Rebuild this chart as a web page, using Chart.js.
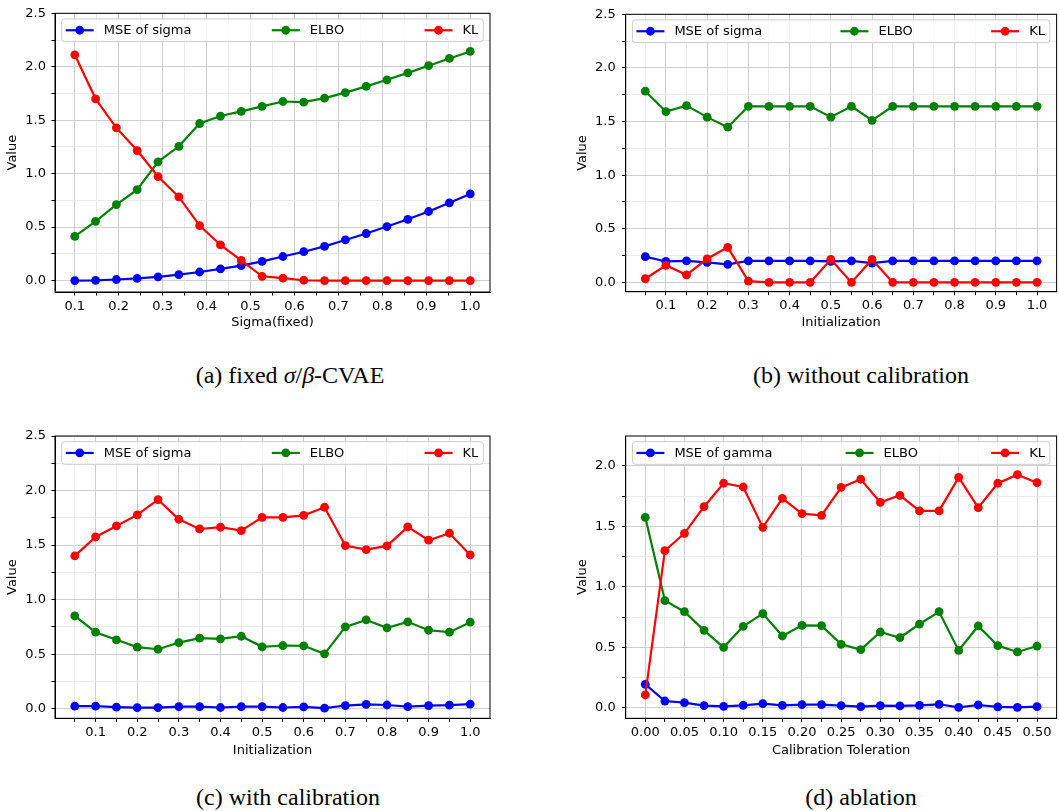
<!DOCTYPE html>
<html>
<head>
<meta charset="utf-8">
<script src="https://cdn.jsdelivr.net/npm/chart.js@4.4.0/dist/chart.umd.min.js"></script>
<style>
body { margin: 0; width: 1059px; height: 811px; overflow: hidden; background: #fff; position: relative; }
canvas { position: absolute; }
.cap { position: absolute; font-family: "Liberation Serif", serif; font-size: 24px; color: #000; transform: translate(-50%, -50%); white-space: nowrap; }
</style>
</head>
<body>
<canvas id="chartA" width="500" height="345" style="left:0px;top:0px;width:500px;height:345px"></canvas>
<canvas id="chartB" width="501" height="345" style="left:560px;top:0px;width:501px;height:345px"></canvas>
<canvas id="chartC" width="500" height="345" style="left:0px;top:420px;width:500px;height:345px"></canvas>
<canvas id="chartD" width="501" height="345" style="left:560px;top:420px;width:501px;height:345px"></canvas>
<div class="cap" style="left:290px;top:375px">(a) fixed <i>σ</i>/<i>β</i>-CVAE</div>
<div class="cap" style="left:861px;top:375px">(b) without calibration</div>
<div class="cap" style="left:288px;top:797px">(c) with calibration</div>
<div class="cap" style="left:861px;top:797px">(d) ablation</div>
<script>
// x values
const sigmaFixed = [0.1, 0.1474, 0.1947, 0.2421, 0.2895, 0.3368, 0.3842, 0.4316, 0.4789, 0.5263,
    0.5737, 0.6211, 0.6684, 0.7158, 0.7632, 0.8105, 0.8579, 0.9053, 0.9526, 1.0];
const initialization = [0.05, 0.10, 0.15, 0.20, 0.25, 0.30, 0.35, 0.40, 0.45, 0.50,
    0.55, 0.60, 0.65, 0.70, 0.75, 0.80, 0.85, 0.90, 0.95, 1.00];
const calibTol = [0, 0.025, 0.05, 0.075, 0.1, 0.125, 0.15, 0.175, 0.2, 0.225, 0.25,
    0.275, 0.3, 0.325, 0.35, 0.375, 0.4, 0.425, 0.45, 0.475, 0.5];

// (a) fixed sigma
const mseA = [0.0, 0.002, 0.01, 0.02, 0.035, 0.055, 0.08, 0.11, 0.14, 0.18, 0.225, 0.27, 0.32, 0.38, 0.44, 0.505, 0.573, 0.646, 0.727, 0.81];
const elboA = [0.413, 0.554, 0.711, 0.85, 1.111, 1.256, 1.469, 1.539, 1.583, 1.629, 1.675, 1.669, 1.706, 1.758, 1.816, 1.878, 1.943, 2.01, 2.078, 2.143];
const klA = [2.112, 1.70, 1.429, 1.216, 0.973, 0.782, 0.514, 0.333, 0.188, 0.04, 0.022, 0.003, 0, 0, 0, 0, 0, 0, 0, 0];

// (b) without calibration
const mseB = [0.24, 0.195, 0.2, 0.186, 0.168, 0.2, 0.2, 0.2, 0.2, 0.195, 0.2, 0.18, 0.2, 0.2, 0.2, 0.2, 0.2, 0.2, 0.2, 0.2];
const elboB = [1.783, 1.593, 1.648, 1.541, 1.447, 1.642, 1.642, 1.642, 1.642, 1.541, 1.642, 1.511, 1.642, 1.642, 1.642, 1.642, 1.642, 1.642, 1.642, 1.642];
const klB = [0.034, 0.159, 0.07, 0.22, 0.327, 0.012, 0, 0, 0, 0.214, 0, 0.214, 0, 0, 0, 0, 0, 0, 0, 0];

// (c) with calibration
const mseC = [0.024, 0.024, 0.015, 0.01, 0.01, 0.02, 0.02, 0.012, 0.02, 0.02, 0.012, 0.018, 0.006, 0.03, 0.04, 0.035, 0.02, 0.03, 0.033, 0.043];
const elboC = [0.852, 0.702, 0.632, 0.565, 0.546, 0.607, 0.647, 0.641, 0.665, 0.568, 0.58, 0.577, 0.504, 0.751, 0.815, 0.742, 0.797, 0.72, 0.702, 0.794];
const klC = [1.401, 1.575, 1.676, 1.777, 1.917, 1.737, 1.648, 1.664, 1.633, 1.755, 1.755, 1.773, 1.847, 1.496, 1.459, 1.493, 1.667, 1.545, 1.609, 1.41];

// (d) ablation
const mseD = [0.193, 0.055, 0.041, 0.017, 0.011, 0.019, 0.033, 0.019, 0.025, 0.025, 0.017, 0.008, 0.017, 0.014, 0.019, 0.028, 0.003, 0.022, 0.006, 0.003, 0.008];
const elboD = [1.575, 0.886, 0.794, 0.64, 0.499, 0.673, 0.778, 0.593, 0.681, 0.679, 0.524, 0.48, 0.626, 0.579, 0.692, 0.794, 0.474, 0.676, 0.513, 0.461, 0.51];
const klD = [0.105, 1.299, 1.443, 1.663, 1.857, 1.826, 1.492, 1.732, 1.606, 1.592, 1.823, 1.89, 1.699, 1.757, 1.628, 1.628, 1.906, 1.655, 1.857, 1.928, 1.862];

// tick values
const xMajor = [0.1, 0.2, 0.3, 0.4, 0.5, 0.6, 0.7, 0.8, 0.9, 1.0];
const xMinorA = [0.15, 0.25, 0.35, 0.45, 0.55, 0.65, 0.75, 0.85, 0.95];
const xMinorBC = [0.05, 0.15, 0.25, 0.35, 0.45, 0.55, 0.65, 0.75, 0.85, 0.95];
const xMajorD = [0, 0.05, 0.1, 0.15, 0.2, 0.25, 0.3, 0.35, 0.4, 0.45, 0.5];
const xMinorD = [0.025, 0.075, 0.125, 0.175, 0.225, 0.275, 0.325, 0.375, 0.425, 0.475];
const yMajor = [0, 0.5, 1.0, 1.5, 2.0, 2.5];
const yMinor = [0.25, 0.75, 1.25, 1.75, 2.25];

const legendLabels = ['MSE of sigma', 'ELBO', 'KL'];
const colors = ['#0000ff', '#008000', '#ff0000'];

Chart.defaults.font.family = '"DejaVu Sans", sans-serif';
Chart.defaults.font.size = 13;
Chart.defaults.color = '#000';

// box around plot + legend inside the plot (matplotlib style, mode=expand)
const frameLegend = {
    id: 'frameLegend',
    afterDraw(chart) {
        const ctx = chart.ctx;
        const a = chart.chartArea;
        const sets = chart.data.datasets;
        ctx.save();
        const fl = a.left + 6.7, fr = a.right - 6.7, ft = a.top + 5.6, fh = 22.7;
        ctx.beginPath();
        ctx.roundRect(fl, ft, fr - fl, fh, 3);
        ctx.fillStyle = 'rgba(255,255,255,0.8)';
        ctx.fill();
        ctx.strokeStyle = '#cccccc';
        ctx.lineWidth = 1;
        ctx.stroke();

        ctx.font = '13px "DejaVu Sans"';
        const widths = sets.map(d => 38 + ctx.measureText(d.label).width);
        const total = widths.reduce((s, w) => s + w, 0);
        const innerL = fl + 4, innerR = fr - 5;
        const gap = (innerR - innerL - total) / (sets.length - 1);
        const cy = ft + fh / 2;
        let x = innerL;
        sets.forEach((d, i) => {
            ctx.strokeStyle = d.borderColor;
            ctx.lineWidth = 2.2;
            ctx.beginPath();
            ctx.moveTo(x, cy);
            ctx.lineTo(x + 28, cy);
            ctx.stroke();
            ctx.fillStyle = d.borderColor;
            ctx.beginPath();
            ctx.arc(x + 14, cy, 4.4, 0, Math.PI * 2);
            ctx.fill();
            ctx.fillStyle = '#000';
            ctx.textBaseline = 'middle';
            ctx.textAlign = 'left';
            ctx.fillText(d.label, x + 38, cy + 0.5);
            x += widths[i] + gap;
        });

        ctx.strokeStyle = '#000';
        ctx.lineWidth = 1;
        ctx.strokeRect(a.left, a.top, a.right - a.left, a.bottom - a.top);
        ctx.restore();
    }
};

function tickSetter(major, minor, min, max) {
    return function (scale) {
        const all = major.map(v => ({ value: v, major: true }))
            .concat(minor.map(v => ({ value: v, major: false })))
            .filter(t => t.value > min && t.value < max);
        all.sort((p, q) => p.value - q.value);
        scale.ticks = all;
    };
}

function makeChart(id, c) {
    const ctx = document.getElementById(id).getContext('2d');
    const series = [c.mse, c.elbo, c.kl];
    const xMajorSet = new Set(c.xMajor);
    const yMajorSet = new Set(c.yMajor);
    const gridColor = (ctx) => (ctx.tick && ctx.tick.major ? '#cfcfcf' : '#ececec');
    return new Chart(ctx, {
        type: 'line',
        data: {
            datasets: series.map((s, i) => ({
                label: c.labels[i],
                data: s.map((v, j) => ({ x: c.x[j], y: v })),
                borderColor: colors[i],
                backgroundColor: colors[i],
                pointBackgroundColor: colors[i],
                borderWidth: 2.2,
                pointRadius: 4.4,
                pointBorderWidth: 0,
                tension: 0,
                order: 2 - i
            }))
        },
        options: {
            responsive: false,
            animation: false,
            layout: { padding: c.padding },
            plugins: { legend: { display: false }, tooltip: { enabled: false } },
            scales: {
                x: {
                    type: 'linear',
                    min: c.xMin,
                    max: c.xMax,
                    afterBuildTicks: tickSetter(c.xMajor, c.xMinor, c.xMin, c.xMax),
                    afterFit: (scale) => { scale.height = c.xH; },
                    ticks: {
                        autoSkip: false,
                        maxRotation: 0,
                        padding: 3,
                        callback: (v) => (xMajorSet.has(v) ? v.toFixed(c.xDec) : '')
                    },
                    grid: { color: gridColor, tickColor: '#000', tickLength: 3.5, lineWidth: 1 },
                    border: { display: true, color: '#000', width: 1 },
                    title: { display: true, text: c.xTitle, padding: { top: 0, bottom: c.xTitlePad } }
                },
                y: {
                    type: 'linear',
                    min: c.yMin,
                    max: c.yMax,
                    afterBuildTicks: tickSetter(c.yMajor, yMinor, c.yMin, c.yMax + 0.001),
                    afterFit: (scale) => { scale.width = c.yW; },
                    ticks: {
                        autoSkip: false,
                        padding: c.yTickPad,
                        callback: (v) => (yMajorSet.has(v) ? v.toFixed(1) : '')
                    },
                    grid: { color: gridColor, tickColor: '#000', tickLength: 3.5, lineWidth: 1 },
                    border: { display: true, color: '#000', width: 1 },
                    title: { display: true, text: 'Value', padding: { top: c.yTitlePad, bottom: 0 } }
                }
            }
        },
        plugins: [frameLegend]
    });
}

makeChart('chartA', {
    x: sigmaFixed, mse: mseA, elbo: elboA, kl: klA, labels: legendLabels,
    xTitle: 'Sigma(fixed)', xMin: 0.055, xMax: 1.045, yMin: -0.107, yMax: 2.5,
    xMajor: xMajor, xMinor: xMinorA, yMajor: yMajor, xDec: 1,
    padding: { left: 0, top: 9.5, right: 10, bottom: 0 },
    yW: 55, xH: 53, yTitlePad: 5.2, xTitlePad: 14.2, yTickPad: 5.5
});

makeChart('chartB', {
    x: initialization, mse: mseB, elbo: elboB, kl: klB, labels: legendLabels,
    xTitle: 'Initialization', xMin: 0.0025, xMax: 1.0475, yMin: -0.087, yMax: 2.5,
    xMajor: xMajor, xMinor: xMinorBC, yMajor: yMajor, xDec: 1,
    padding: { left: 0, top: 9.3, right: 0, bottom: 0 },
    yW: 65.7, xH: 53.3, yTitlePad: 15.2, xTitlePad: 14.2, yTickPad: 6.5
});

makeChart('chartC', {
    x: initialization, mse: mseC, elbo: elboC, kl: klC, labels: legendLabels,
    xTitle: 'Initialization', xMin: 0.0025, xMax: 1.0475, yMin: -0.087, yMax: 2.5,
    xMajor: xMajor, xMinor: xMinorBC, yMajor: yMajor, xDec: 1,
    padding: { left: 0, top: 16, right: 10, bottom: 0 },
    yW: 55, xH: 46.7, yTitlePad: 5.2, xTitlePad: 6.2, yTickPad: 5.5
});

makeChart('chartD', {
    x: calibTol, mse: mseD, elbo: elboD, kl: klD, labels: ['MSE of gamma', 'ELBO', 'KL'],
    xTitle: 'Calibration Toleration', xMin: -0.025, xMax: 0.525, yMin: -0.088, yMax: 2.248,
    xMajor: xMajorD, xMinor: xMinorD, yMajor: [0, 0.5, 1.0, 1.5, 2.0], xDec: 2,
    padding: { left: 0, top: 16, right: 0, bottom: 0 },
    yW: 65.7, xH: 46.7, yTitlePad: 15.2, xTitlePad: 6.2, yTickPad: 6.5
});
</script>
</body>
</html>
